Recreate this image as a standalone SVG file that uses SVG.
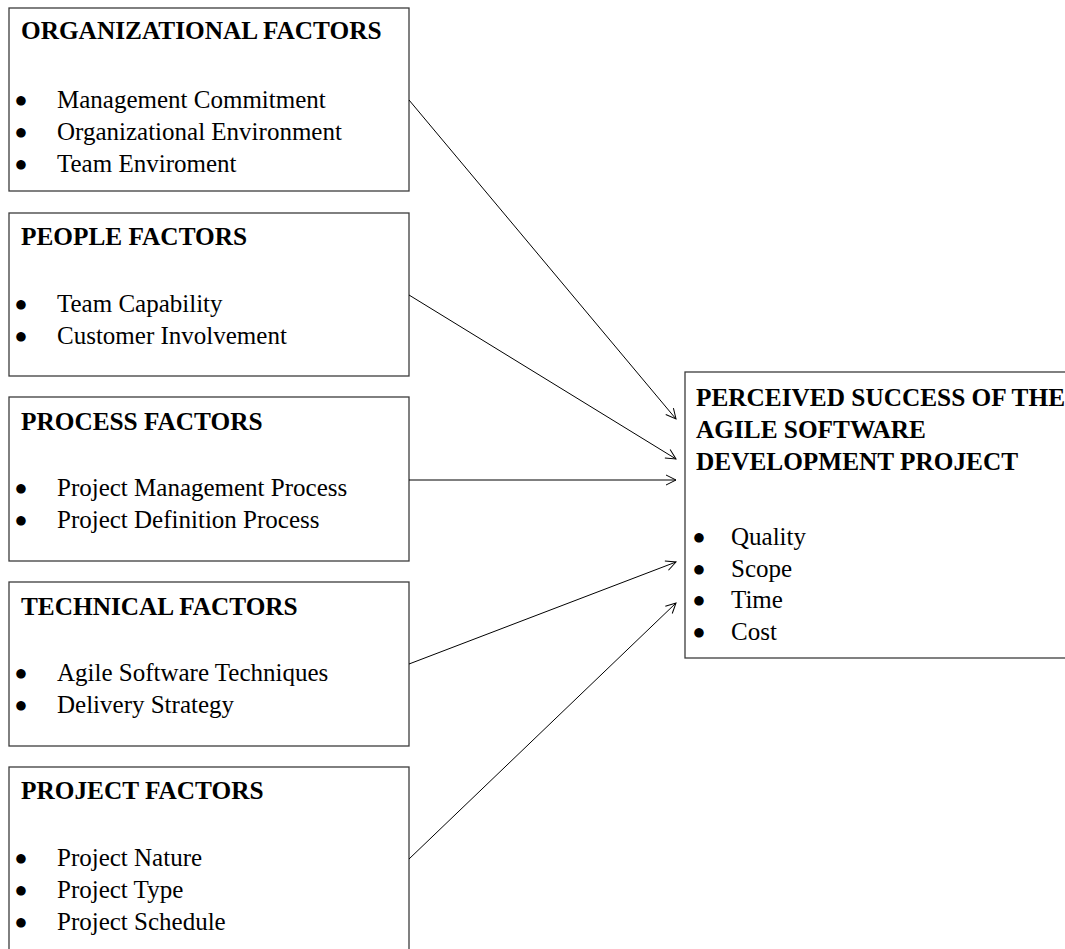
<svg xmlns="http://www.w3.org/2000/svg" width="1065" height="949" viewBox="0 0 1065 949">
<style>
.box{fill:#ffffff;stroke:#3c3c3c;stroke-width:1.3}
.t{font-family:"Liberation Serif","Times New Roman",serif;font-size:25px;fill:#000}
.h{font-weight:bold;font-size:25.3px}
.b{text-anchor:middle;font-family:"DejaVu Sans",sans-serif;font-size:12.5px;fill:#000}
.c{fill:none;stroke:#000;stroke-width:1}
</style>
<defs>
<marker id="ah" viewBox="0 0 12 12" refX="11" refY="6" markerWidth="12" markerHeight="12" markerUnits="userSpaceOnUse" orient="auto">
<path d="M1,1 L11,6 L1,11" fill="none" stroke="#000" stroke-width="1"/>
</marker>
</defs>
<rect width="1065" height="949" fill="#ffffff"/>
<g id="organizational">
<rect class="box" x="9" y="8" width="400" height="183"/>
<text class="t h" x="21" y="39">ORGANIZATIONAL FACTORS</text>
<text class="b" x="21" y="103.5">●</text><text class="t" x="57" y="108">Management Commitment</text>
<text class="b" x="21" y="135.5">●</text><text class="t" x="57" y="140">Organizational Environment</text>
<text class="b" x="21" y="167.5">●</text><text class="t" x="57" y="172">Team Enviroment</text>
</g>
<g id="people">
<rect class="box" x="9" y="213" width="400" height="163"/>
<text class="t h" x="21" y="245">PEOPLE FACTORS</text>
<text class="b" x="21" y="307.5">●</text><text class="t" x="57" y="312">Team Capability</text>
<text class="b" x="21" y="339.5">●</text><text class="t" x="57" y="344">Customer Involvement</text>
</g>
<g id="process">
<rect class="box" x="9" y="397" width="400" height="164"/>
<text class="t h" x="21" y="430">PROCESS FACTORS</text>
<text class="b" x="21" y="491.5">●</text><text class="t" x="57" y="496">Project Management Process</text>
<text class="b" x="21" y="523.5">●</text><text class="t" x="57" y="528">Project Definition Process</text>
</g>
<g id="technical">
<rect class="box" x="9" y="582" width="400" height="164"/>
<text class="t h" x="21" y="615">TECHNICAL FACTORS</text>
<text class="b" x="21" y="676.5">●</text><text class="t" x="57" y="681">Agile Software Techniques</text>
<text class="b" x="21" y="708.5">●</text><text class="t" x="57" y="713">Delivery Strategy</text>
</g>
<g id="project">
<rect class="box" x="9" y="767" width="400" height="200"/>
<text class="t h" x="21" y="799">PROJECT FACTORS</text>
<text class="b" x="21" y="861.5">●</text><text class="t" x="57" y="866">Project Nature</text>
<text class="b" x="21" y="893.5">●</text><text class="t" x="57" y="898">Project Type</text>
<text class="b" x="21" y="925.5">●</text><text class="t" x="57" y="930">Project Schedule</text>
</g>
<g id="success">
<rect class="box" x="685" y="372" width="400" height="286"/>
<text class="t h" x="696" y="406">PERCEIVED SUCCESS OF THE</text>
<text class="t h" x="696" y="438">AGILE SOFTWARE</text>
<text class="t h" x="696" y="470">DEVELOPMENT PROJECT</text>
<text class="b" x="699" y="540.5">●</text><text class="t" x="731" y="545">Quality</text>
<text class="b" x="699" y="572.5">●</text><text class="t" x="731" y="577">Scope</text>
<text class="b" x="699" y="603.5">●</text><text class="t" x="731" y="608">Time</text>
<text class="b" x="699" y="635.5">●</text><text class="t" x="731" y="640">Cost</text>
</g>
<g id="connectors">
<line class="c" x1="409" y1="100" x2="676" y2="419" marker-end="url(#ah)"/>
<line class="c" x1="409" y1="295" x2="676" y2="459" marker-end="url(#ah)"/>
<line class="c" x1="409" y1="480" x2="676" y2="480" marker-end="url(#ah)"/>
<line class="c" x1="409" y1="664" x2="676" y2="562" marker-end="url(#ah)"/>
<line class="c" x1="409" y1="859" x2="676" y2="603" marker-end="url(#ah)"/>
</g>
</svg>
